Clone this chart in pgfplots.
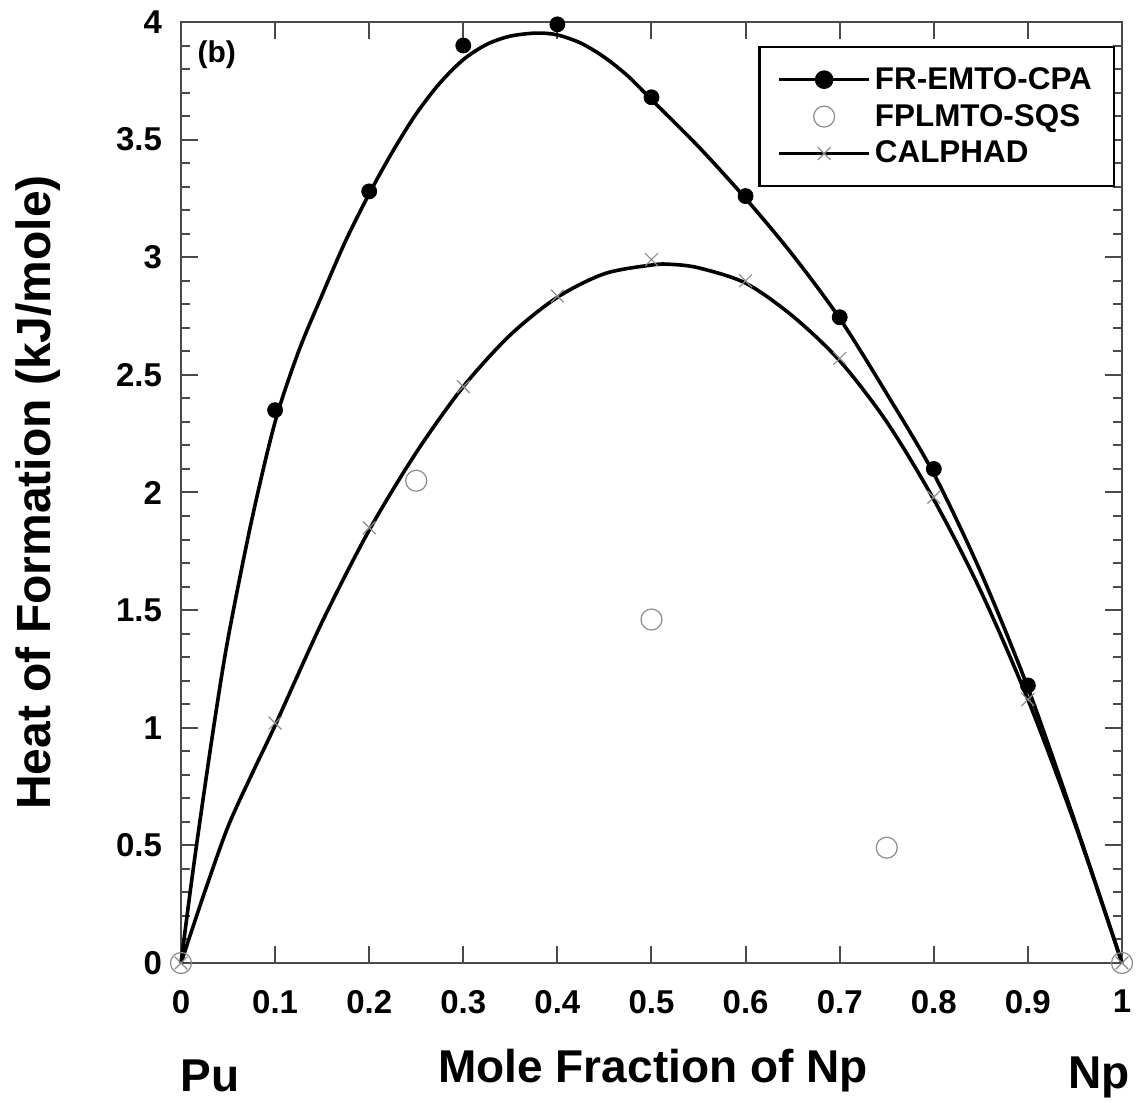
\documentclass[border=0pt]{standalone}
\usepackage{fontspec}
\setmainfont{Liberation Sans}
\usepackage{pgfplots}
\pgfplotsset{compat=1.18}
\definecolor{axgray}{HTML}{4A4A4A}
\definecolor{mkgray}{HTML}{8C8C8C}
\pgfplotsset{mylegimg/.style={legend image code/.code={\draw[mark repeat=2,mark phase=2,##1] plot coordinates {(0pt,0pt)(22.5pt,0pt)(45pt,0pt)};}}}
\begin{document}
\begin{tikzpicture}
\path[use as bounding box] (-90.5pt,-70pt) rectangle (480pt,481.5pt);
\begin{axis}[
  scale only axis, width=470.5pt, height=470.5pt,
  xmin=0, xmax=1, ymin=0, ymax=4,
  xtick={0,0.1,0.2,0.3,0.4,0.5,0.6,0.7,0.8,0.9,1},
  xticklabels={0,0.1,0.2,0.3,0.4,0.5,0.6,0.7,0.8,0.9,1},
  ytick={0,0.5,1,1.5,2,2.5,3,3.5,4},
  yticklabels={0,0.5,1,1.5,2,2.5,3,3.5,4},
  minor y tick num=4,
  tick align=inside,
  major tick length=8.5pt, minor tick length=4.5pt,
  axis line style={axgray, line width=1pt},
  every tick/.style={axgray, line width=1pt},
  ticklabel style={font=\fontsize{16.5}{18}\selectfont\bfseries},
  xticklabel style={yshift=-10pt},
  yticklabel style={xshift=-6pt},
  xlabel={Mole Fraction of Np},
  xlabel style={font=\fontsize{23}{26}\selectfont\bfseries, at={(axis description cs:0.5016,-0.1275)}, anchor=base},
  ylabel={Heat of Formation (kJ/mole)},
  ylabel style={font=\fontsize{24}{27}\selectfont\bfseries, at={(axis description cs:-0.152,0.5)}, anchor=center},
  clip=false,
  legend style={at={(axis description cs:0.9926,0.9745)}, anchor=north east, draw=black, line width=1.2pt,
    font=\fontsize{15.7}{17}\selectfont\bfseries, inner xsep=9pt, inner ysep=8pt, row sep=2pt},
  legend cell align=left,
]
\addlegendimage{black, line width=1.8pt, mark=*, mark size=3.75pt, mylegimg}
\addlegendentry{FR-EMTO-CPA}
\addlegendimage{only marks, mark=o, mark size=5.25pt, mkgray, line width=0.6pt, mylegimg}
\addlegendentry{FPLMTO-SQS}
\addlegendimage{black, line width=1.8pt, mark=x, mark size=4.5pt, mark options={mkgray, line width=0.6pt}, mylegimg}
\addlegendentry{CALPHAD}

% FR-EMTO-CPA fitted curve
\addplot[black, line width=1.8pt, smooth, forget plot] coordinates {
(0,0) (0.01,0.31) (0.02,0.60) (0.035,1.01) (0.05,1.38) (0.075,1.88) (0.1,2.30) (0.125,2.60)
(0.15,2.84) (0.175,3.07) (0.2,3.27) (0.225,3.45) (0.25,3.61) (0.275,3.74) (0.3,3.84) (0.325,3.905) (0.35,3.94) (0.378,3.953) (0.4,3.945)
(0.425,3.91) (0.45,3.85) (0.475,3.77) (0.5,3.67) (0.55,3.47) (0.6,3.25) (0.65,3.01) (0.7,2.74) (0.75,2.42)
(0.8,2.08) (0.85,1.66) (0.9,1.17) (0.95,0.60) (1,0)};
% FR-EMTO-CPA data
\addplot[only marks, mark=*, mark size=3.75pt, black, forget plot] coordinates {
(0.1,2.35) (0.2,3.28) (0.3,3.90) (0.4,3.99) (0.5,3.68) (0.6,3.26) (0.7,2.745) (0.8,2.10) (0.9,1.18)};
% CALPHAD curve
\addplot[black, line width=1.8pt, smooth, forget plot] coordinates {
(0,0) (0.025,0.30) (0.05,0.58) (0.075,0.80) (0.1,1.01) (0.15,1.45) (0.2,1.84) (0.25,2.17)
(0.3,2.45) (0.35,2.67) (0.4,2.83) (0.45,2.93) (0.5,2.967) (0.52,2.97) (0.55,2.955)
(0.6,2.89) (0.65,2.75) (0.7,2.56) (0.75,2.30) (0.8,1.97) (0.85,1.58) (0.9,1.12) (0.95,0.59) (1,0)};
% CALPHAD points
\addplot[only marks, mark=x, mark size=4.5pt, mkgray, line width=0.6pt, forget plot] coordinates {
(0,0) (0.1,1.02) (0.2,1.85) (0.3,2.45) (0.4,2.835) (0.5,2.99) (0.6,2.90) (0.7,2.57) (0.8,1.98) (0.9,1.12) (1,0)};
% FPLMTO-SQS
\addplot[only marks, mark=o, mark size=5.25pt, mkgray, line width=0.6pt, forget plot] coordinates {
(0,0) (0.25,2.05) (0.5,1.46) (0.75,0.49) (1,0)};

\node[font=\fontsize{15}{17}\selectfont\bfseries] at (axis cs:0.038,3.86) {(b)};
\node[font=\fontsize{23}{26}\selectfont\bfseries, anchor=base] at (axis description cs:0.031,-0.137) {Pu};
\node[font=\fontsize{23}{26}\selectfont\bfseries, anchor=base] at (axis description cs:0.976,-0.133) {Np};
\end{axis}
\end{tikzpicture}
\end{document}
